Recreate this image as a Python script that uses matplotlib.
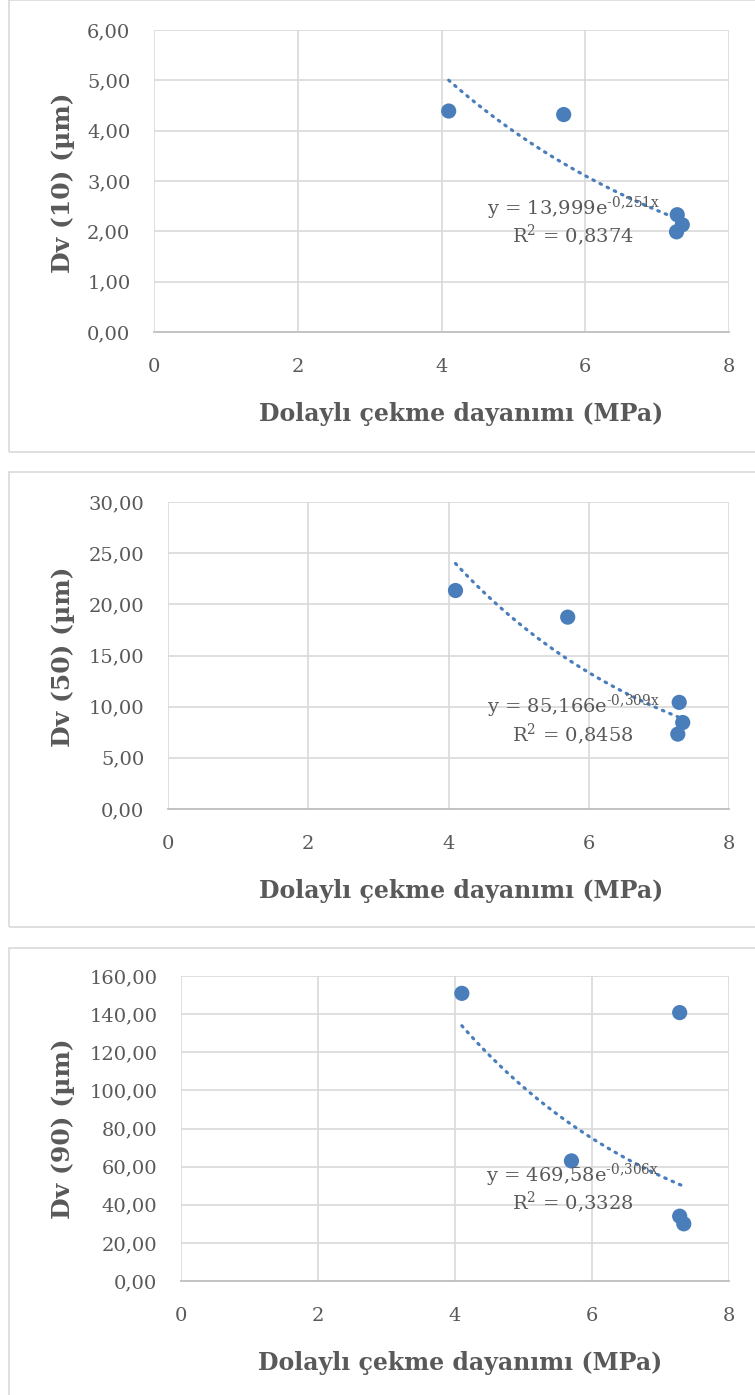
import matplotlib
matplotlib.use('Agg')
import matplotlib.pyplot as plt
import numpy as np
from matplotlib.patches import Rectangle
from matplotlib.ticker import FuncFormatter, MultipleLocator

plt.rcParams['font.family'] = ['DejaVu Serif']
plt.rcParams['mathtext.fontset'] = 'dejavuserif'

# data
x_d10 = [4.10, 5.70, 7.28, 7.35, 7.27]
y_d10 = [4.39, 4.32, 2.33, 2.13, 1.99]
x_d50 = [4.10, 5.70, 7.29, 7.34, 7.27]
y_d50 = [21.35, 18.75, 10.42, 8.45, 7.32]
x_d90 = [4.10, 5.70, 7.28, 7.28, 7.34]
y_d90 = [150.9, 63.0, 140.8, 34.0, 30.0]

# exponential trend lines y = a * exp(b * x), from the labels
fit_a = [13.999, 85.166, 469.58]
fit_b = [-0.251, -0.309, -0.306]
fit_r2 = ['0,8374', '0,8458', '0,3328']
fit_a_txt = ['13,999', '85,166', '469,58']
fit_b_txt = ['\u2010' + '0{,}251x', '\u2010' + '0{,}309x', '\u2010' + '0{,}306x']

y_labels = ['Dv (10) (µm)', 'Dv (50) (µm)', 'Dv (90) (µm)']
y_max = [6, 30, 160]
y_step = [1, 5, 20]
x_label = 'Dolaylı çekme dayanımı (MPa)'

W, H = 755, 1395
fig = plt.figure(figsize=(W / 100, H / 100), dpi=100)

# pixel boxes: (left, right, top, bottom) of each plot area
boxes = [(154, 729, 30, 332), (168, 729, 502, 809), (181, 729, 976, 1281)]
frames = [(9, 0, 452), (9, 472, 927), (9, 948, 1400)]
eq_pos = [(0.729, 0.408, 0.319), (0.722, 0.335, 0.245), (0.715, 0.347, 0.258)]
xlab_pos = [(0.534, -0.270), (0.522, -0.266), (0.510, -0.269)]
ylab_pos = [(-0.158, 0.495), (-0.188, 0.496), (-0.216, 0.498)]

blue = '#4a7ebb'
txt = '#595959'
grid = '#d9d9d9'

xs = [x_d10, x_d50, x_d90]
ys = [y_d10, y_d50, y_d90]

for i in range(3):
    fl, ft, fb = frames[i]
    fig.add_artist(Rectangle((fl / W, 1 - fb / H), (W + 10 - fl) / W, (fb - ft) / H,
                             transform=fig.transFigure, fill=False,
                             edgecolor=grid, linewidth=1.2))

    l, r, t, b = boxes[i]
    ax = fig.add_axes([l / W, 1 - b / H, (r - l) / W, (b - t) / H])
    ax.set_xlim(0, 8)
    ax.set_ylim(0, y_max[i])
    ax.xaxis.set_major_locator(MultipleLocator(2))
    ax.yaxis.set_major_locator(MultipleLocator(y_step[i]))
    ax.yaxis.set_major_formatter(FuncFormatter(lambda v, p: f'{v:.2f}'.replace('.', ',')))
    ax.grid(True, color=grid, linewidth=1.2)
    ax.set_axisbelow(True)
    for s in ['left', 'right', 'top']:
        ax.spines[s].set_visible(False)
    ax.spines['bottom'].set_color('#bfbfbf')
    ax.spines['bottom'].set_linewidth(1.3)
    ax.tick_params(length=0, labelsize=14, labelcolor=txt)
    ax.tick_params(axis='y', pad=17)
    ax.tick_params(axis='x', pad=19)

    xx = np.linspace(min(xs[i]), max(xs[i]), 100)
    ax.plot(xx, fit_a[i] * np.exp(fit_b[i] * xx), color=blue, linewidth=2.3,
            linestyle=(0, (0.5, 2.0)), dash_capstyle='round', zorder=2)
    ax.scatter(xs[i], ys[i], s=120, color=blue, edgecolor='none', zorder=3)

    ex, ey1, ey2 = eq_pos[i]
    ax.text(ex, ey1, f'y = {fit_a_txt[i]}e$^{{\\mathregular{{{fit_b_txt[i]}}}}}$',
            transform=ax.transAxes, ha='center', va='center', fontsize=14, color=txt, zorder=4)
    ax.text(ex, ey2, f'R$^{{\\mathregular{{2}}}}$ = {fit_r2[i]}',
            transform=ax.transAxes, ha='center', va='center', fontsize=14, color=txt, zorder=4)

    ax.set_xlabel(x_label, fontsize=17, fontweight='bold', color=txt)
    ax.xaxis.label.set_va('center')
    ax.xaxis.set_label_coords(*xlab_pos[i])
    ax.set_ylabel(y_labels[i], fontsize=18, fontweight='bold', color=txt)
    ax.yaxis.label.set_va('center')
    ax.yaxis.set_label_coords(*ylab_pos[i])

fig.savefig('out.png', dpi=100, facecolor='white')
